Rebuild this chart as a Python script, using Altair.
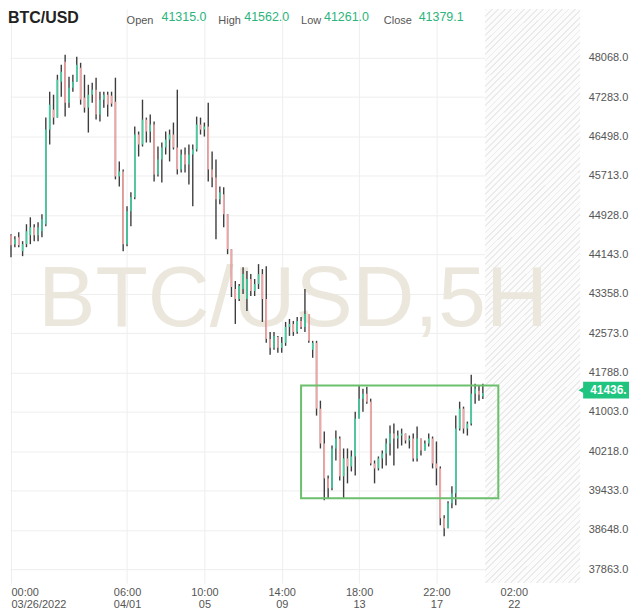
import altair as alt
import pandas as pd

# ---------------- data (5H bars) ----------------
bar_open = [44528, 44349, 44488, 44210, 44349, 44528, 44687, 44528, 44608, 44747,
            46636, 47034, 46875, 47591, 47989, 47173, 47472, 47591, 47870, 47273,
            47074, 47332, 47432, 46935, 47233, 47332, 47313, 47193, 45701, 45801,
            44349, 45005, 45284, 46537, 46338, 46835, 46597, 46736, 45741, 46040,
            46278, 46437, 46537, 46278, 45841, 46139, 45940, 46139, 46239, 46736,
            46636, 46696, 45841, 45682, 45244, 45344, 44946, 44250, 43454, 43255,
            43454, 43255, 43653, 43414, 43553, 43752, 43255, 42459, 42280, 42499,
            42280, 42380, 42698, 42757, 42598, 42817, 42698, 42956, 42241, 42380,
            41067, 40371, 39675, 39476, 40272, 40471, 39715, 40073, 39914, 40113,
            40868, 41266, 41365, 41206, 39973, 39874, 40073, 40172, 40371, 40570,
            40471, 40530, 40570, 40431, 40471, 40073, 40471, 40232, 40371, 40471,
            39973, 39874, 38879, 38680, 39178, 39377, 40669, 41067, 40669, 40769,
            41365, 41425, 41315]
bar_high = [44548, 44508, 44588, 44409, 44747, 44886, 44747, 44787, 44946, 46875,
            47392, 47332, 47730, 47929, 48128, 47690, 47730, 48088, 47969, 47730,
            47531, 47571, 47671, 47392, 47392, 47392, 47392, 47671, 46000, 45841,
            45105, 45384, 46696, 46597, 47233, 46875, 46935, 46795, 46298, 46378,
            46597, 46636, 46776, 47432, 46239, 46278, 46338, 46338, 46895, 46875,
            46776, 47173, 46199, 46040, 45502, 45483, 44946, 44250, 43613, 43553,
            43891, 43812, 43752, 43653, 43951, 43852, 43911, 42598, 42598, 42519,
            42499, 42797, 42857, 42817, 42897, 42897, 43454, 42956, 42420, 42420,
            41226, 40610, 39735, 40331, 40630, 40510, 40272, 40272, 40232, 41007,
            41525, 41465, 41505, 41266, 40033, 40113, 40232, 40471, 40729, 40769,
            40630, 40669, 40570, 40530, 40570, 40709, 40471, 40431, 40570, 40510,
            40411, 39914, 38939, 39218, 39516, 40928, 41206, 41107, 40809, 41744,
            41563, 41525, 41562]
bar_low = [44090, 44289, 44289, 44110, 44289, 44349, 44409, 44409, 44488, 44707,
           46338, 46736, 46875, 47293, 46895, 47074, 47392, 47591, 47134, 46975,
           46577, 47173, 46835, 46795, 47074, 46895, 47094, 45642, 45502, 44210,
           44309, 44707, 45244, 46099, 46298, 46378, 46378, 45602, 45701, 45582,
           46139, 46000, 46239, 45741, 45781, 45781, 45542, 45105, 46199, 46537,
           46497, 45602, 45483, 44448, 45145, 44687, 44150, 43295, 42757, 43215,
           43355, 43016, 43315, 43315, 43454, 42797, 42380, 42141, 42241, 42181,
           42181, 42320, 42519, 42519, 42559, 42658, 42598, 42380, 42082, 40928,
           40272, 39238, 39277, 39437, 40033, 39635, 39277, 39576, 39814, 39735,
           40868, 41007, 41167, 39934, 39576, 39834, 39874, 39934, 40132, 39934,
           40272, 40331, 40371, 40272, 40013, 40013, 40132, 40232, 40311, 39874,
           39536, 38740, 38521, 38680, 39079, 39138, 40630, 40570, 40530, 40729,
           41167, 41226, 41261]
bar_close = [44329, 44448, 44329, 44349, 44608, 44687, 44528, 44687, 44846, 46636,
             47134, 46875, 47631, 47790, 47173, 47472, 47591, 47929, 47233, 47074,
             47332, 47432, 46935, 47233, 47332, 47134, 47154, 45701, 45801, 44349,
             45005, 45284, 46537, 46338, 46835, 46597, 46736, 45741, 46040, 46278,
             46437, 46537, 46278, 45841, 46139, 45940, 46139, 46239, 46736, 46636,
             46696, 45841, 45682, 45244, 45384, 44946, 44250, 43494, 43255, 43513,
             43752, 43653, 43414, 43553, 43752, 43255, 42459, 42280, 42519, 42280,
             42380, 42698, 42757, 42598, 42817, 42698, 42956, 42420, 42380, 41067,
             40371, 39675, 39476, 40272, 40471, 39715, 40073, 39914, 40113, 40868,
             41266, 41365, 41206, 39973, 39874, 40073, 40172, 40371, 40570, 40471,
             40530, 40570, 40431, 40471, 40073, 40471, 40232, 40371, 40471, 39973,
             39874, 38879, 38680, 39178, 39377, 40669, 41067, 40669, 40769, 41365,
             41465, 41345, 41379.1]

x_tick_values = [0, 30, 50, 70, 90, 110, 130]
x_tick_time = ["00:00", "06:00", "10:00", "14:00", "18:00", "22:00", "02:00"]
x_tick_date = ["03/26/2022", "04/01", "05", "09", "13", "17", "22"]
y_tick_values = [37863, 38648, 39433, 40218, 41003, 41788, 42573, 43358,
                 44143, 44928, 45713, 46498, 47283, 48068]

x_domain = [-0.26, 147.16]
y_domain = [37585, 49043]
future_start = [122.6]
box_x = [75.0, 126.0]
box_y = [39280, 41530]
last_price = [41436]
last_price_text = ["41436."]

header_labels = ["Open", "High", "Low", "Close"]
header_values = ["41315.0", "41562.0", "41261.0", "41379.1"]

# ---------------- styling ----------------
W, H = 572, 576
FONT = "Liberation Sans"
UP, DOWN, WICK = "#3fd0a0", "#f6a3a3", "#3d3d3d"
GRID = "#eeeeee"
GREEN_TXT = "#2cb47c"

# faint diagonal hatching for the "future" zone (a striped gradient)
n_stripes = 105
stops = []
for k in range(n_stripes):
    a = k / n_stripes
    m = (k + 0.28) / n_stripes
    b = (k + 1) / n_stripes
    stops += [{"offset": a, "color": "#ebebeb"}, {"offset": m, "color": "#ebebeb"},
              {"offset": m, "color": "#fcfcfc"}, {"offset": b, "color": "#fcfcfc"}]
hatch = alt.LinearGradient(gradient="linear", x1=0, y1=0, x2=0.187, y2=1.134, stops=stops)

df = pd.DataFrame({
    "i": list(range(len(bar_open))),
    "open": bar_open, "high": bar_high, "low": bar_low, "close": bar_close,
})
df["dir"] = ["up" if c >= o else "down" for o, c in zip(df["open"], df["close"])]

label_expr = " : ".join(
    f"datum.value == {v} ? ['{t}', '{d}']"
    for v, t, d in zip(x_tick_values, x_tick_time, x_tick_date)
) + " : ''"

xscale = alt.Scale(domain=x_domain, nice=False, zero=False)
yscale = alt.Scale(domain=y_domain, nice=False, zero=False)

x_axis = alt.Axis(values=x_tick_values, labelExpr=label_expr, grid=True, gridColor=GRID,
                  ticks=False, domain=False, labelColor="#555", labelFontSize=11,
                  labelFont=FONT, labelLineHeight=12, labelPadding=3, labelFlush=6,
                  title=None)
y_axis = alt.Axis(values=y_tick_values, format=".1f", orient="right", grid=True,
                  gridColor=GRID, ticks=False, domain=False, labelColor="#555",
                  labelFontSize=11, labelFont=FONT, labelPadding=8, title=None)

base = alt.Chart(df)

future = alt.Chart(pd.DataFrame({"x": future_start})).mark_rect(
    color=hatch
).encode(x=alt.X("x:Q", scale=xscale), x2=alt.value(W), y=alt.value(0), y2=alt.value(H))

watermark = alt.Chart(pd.DataFrame({"t": ["BTC/USD,5H"]})).mark_text(
    font=FONT, fontSize=86, color="#ece7dd", align="center", baseline="alphabetic"
).encode(text="t:N", x=alt.value(284), y=alt.value(318))

wicks = base.mark_rule(color=WICK, strokeWidth=1.4).encode(
    x=alt.X("i:Q", scale=xscale, axis=x_axis),
    y=alt.Y("low:Q", scale=yscale, axis=y_axis),
    y2="high:Q",
)

bodies = base.mark_rule(strokeWidth=1.6).encode(
    x=alt.X("i:Q", scale=xscale),
    y=alt.Y("open:Q", scale=yscale),
    y2="close:Q",
    color=alt.Color("dir:N", scale=alt.Scale(domain=["up", "down"], range=[UP, DOWN]),
                    legend=None),
)

box = alt.Chart(pd.DataFrame({"x": [box_x[0]], "x2": [box_x[1]],
                              "y": [box_y[0]], "y2": [box_y[1]]})).mark_rect(
    fillOpacity=0, stroke="#6cbf6c", strokeWidth=2
).encode(x=alt.X("x:Q", scale=xscale), x2="x2:Q",
         y=alt.Y("y:Q", scale=yscale), y2="y2:Q")

price_df = pd.DataFrame({"y": last_price, "t": last_price_text})
price_box = alt.Chart(price_df).mark_rect(color="#1fc47f", height=17).encode(
    x=alt.value(575), x2=alt.value(621), y=alt.Y("y:Q", scale=yscale))
price_tip = alt.Chart(price_df).mark_point(
    shape="triangle-left", filled=True, color="#1fc47f", size=40, opacity=1
).encode(x=alt.value(573), y=alt.Y("y:Q", scale=yscale))
price_txt = alt.Chart(price_df).mark_text(
    color="white", font=FONT, fontSize=12, fontWeight="bold", align="left", baseline="middle"
).encode(x=alt.value(582), y=alt.Y("y:Q", scale=yscale), text="t:N")

title_txt = alt.Chart(pd.DataFrame({"t": ["BTC/USD"]})).mark_text(
    font=FONT, fontSize=16, fontWeight="bold", color="#222", align="left", baseline="alphabetic"
).encode(text="t:N", x=alt.value(-2), y=alt.value(14))

hdr_layers = []
label_x = [117, 209, 292, 375]
value_x = [152, 235, 315, 410]
for lx, vx, lab, val in zip(label_x, value_x, header_labels, header_values):
    hdr_layers.append(alt.Chart(pd.DataFrame({"t": [lab]})).mark_text(
        font=FONT, fontSize=11, color="#555", align="left", baseline="alphabetic"
    ).encode(text="t:N", x=alt.value(lx), y=alt.value(15)))
    hdr_layers.append(alt.Chart(pd.DataFrame({"t": [val]})).mark_text(
        font=FONT, fontSize=12.5, color=GREEN_TXT, align="left", baseline="alphabetic"
    ).encode(text="t:N", x=alt.value(vx), y=alt.value(12)))

chart = alt.layer(
    future, watermark, wicks, bodies, box, price_box, price_tip, price_txt,
    title_txt, *hdr_layers
).properties(
    width=W, height=H, padding={"left": 0, "top": 0, "right": 0, "bottom": 0},
    background="white"
).configure_view(stroke=None)

chart.save("out.html", embed_options={"renderer": "svg", "actions": False})
